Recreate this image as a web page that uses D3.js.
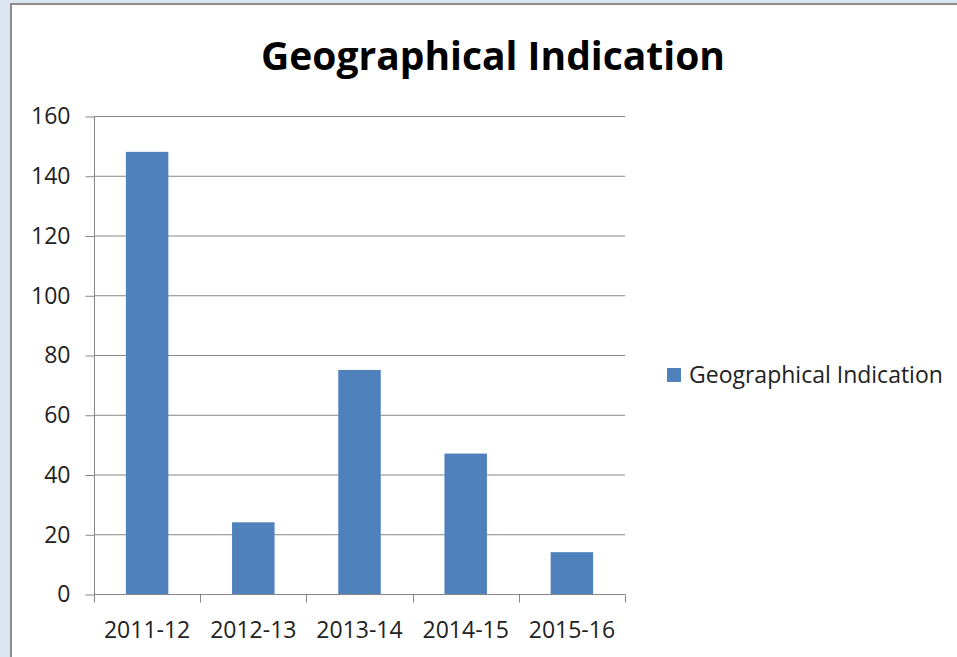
<!DOCTYPE html>
<html>
<head>
<meta charset="utf-8">
<script src="https://cdn.jsdelivr.net/npm/d3@7"></script>
<style>
  body { margin: 0; background: #dce6f1; }
  svg { display: block; }
</style>
</head>
<body>
<svg id="chart" width="957" height="657"></svg>
<script>
var categories = ["2011-12", "2012-13", "2013-14", "2014-15", "2015-16"];
var values = [148, 24, 75, 47, 14];
var yTicks = [0, 20, 40, 60, 80, 100, 120, 140, 160];
var seriesName = "Geographical Indication";

var svg = d3.select("#chart");
var font = "Open Sans, Lato, sans-serif";

// chart area with the grey frame on the left and top
svg.append("rect")
   .attr("x", 11).attr("y", 4)
   .attr("width", 957).attr("height", 657)
   .attr("fill", "#fff")
   .attr("stroke", "#8c8c8c")
   .attr("stroke-width", 2);

var x = d3.scaleBand().domain(categories).range([94, 625]).paddingInner(0.6).paddingOuter(0.3);
var y = d3.scaleLinear().domain([0, 160]).range([594, 116]);

// gridlines
svg.append("g").selectAll("line")
   .data(yTicks.slice(1))
   .enter().append("line")
   .attr("x1", 94).attr("x2", 625)
   .attr("y1", function(d) { return y(d) + 0.5; })
   .attr("y2", function(d) { return y(d) + 0.5; })
   .attr("stroke", "#868686");

// bars
svg.append("g").selectAll("rect")
   .data(values)
   .enter().append("rect")
   .attr("x", function(d, i) { return x(categories[i]); })
   .attr("width", x.bandwidth())
   .attr("y", function(d) { return y(d); })
   .attr("height", function(d) { return y(0) - y(d); })
   .attr("fill", "#4f81bd");

// y axis
var yAxis = svg.append("g")
   .attr("transform", "translate(94.5,0.5)")
   .call(d3.axisLeft(y).tickValues(yTicks).tickSize(9).tickPadding(15));
yAxis.selectAll("path, line").attr("stroke", "#868686");
yAxis.select(".domain").attr("d", "M0," + y(160) + "V" + y(0));
yAxis.selectAll("text")
   .attr("font-family", font).attr("font-size", 23).attr("fill", "#222");

// x axis
var xEdges = d3.scaleLinear().domain([0, categories.length]).range([94, 625]);
var xAxis = svg.append("g").attr("transform", "translate(0," + (y(0) + 0.5) + ")");
xAxis.append("line")
   .attr("x1", 94).attr("x2", 625)
   .attr("stroke", "#868686");
xAxis.selectAll(".tk")
   .data(d3.range(categories.length + 1))
   .enter().append("line")
   .attr("x1", function(d) { return Math.round(xEdges(d)) + 0.5; })
   .attr("x2", function(d) { return Math.round(xEdges(d)) + 0.5; })
   .attr("y1", 0).attr("y2", 8)
   .attr("stroke", "#868686");
xAxis.selectAll("text")
   .data(categories)
   .enter().append("text")
   .attr("x", function(d) { return x(d) + x.bandwidth() / 2; })
   .attr("y", 43)
   .attr("text-anchor", "middle")
   .attr("font-family", font).attr("font-size", 23).attr("fill", "#222")
   .text(function(d) { return d; });

// title
svg.append("text")
   .attr("x", 493).attr("y", 70)
   .attr("text-anchor", "middle")
   .attr("font-family", font).attr("font-weight", "bold")
   .attr("font-size", 39).attr("fill", "#000")
   .text(seriesName);

// legend
var legend = svg.append("g").attr("transform", "translate(667,368)");
legend.append("rect")
   .attr("width", 14).attr("height", 14)
   .attr("fill", "#4f81bd");
legend.append("text")
   .attr("x", 22).attr("y", 15)
   .attr("font-family", font).attr("font-size", 23).attr("fill", "#222")
   .text(seriesName);
</script>
</body>
</html>
